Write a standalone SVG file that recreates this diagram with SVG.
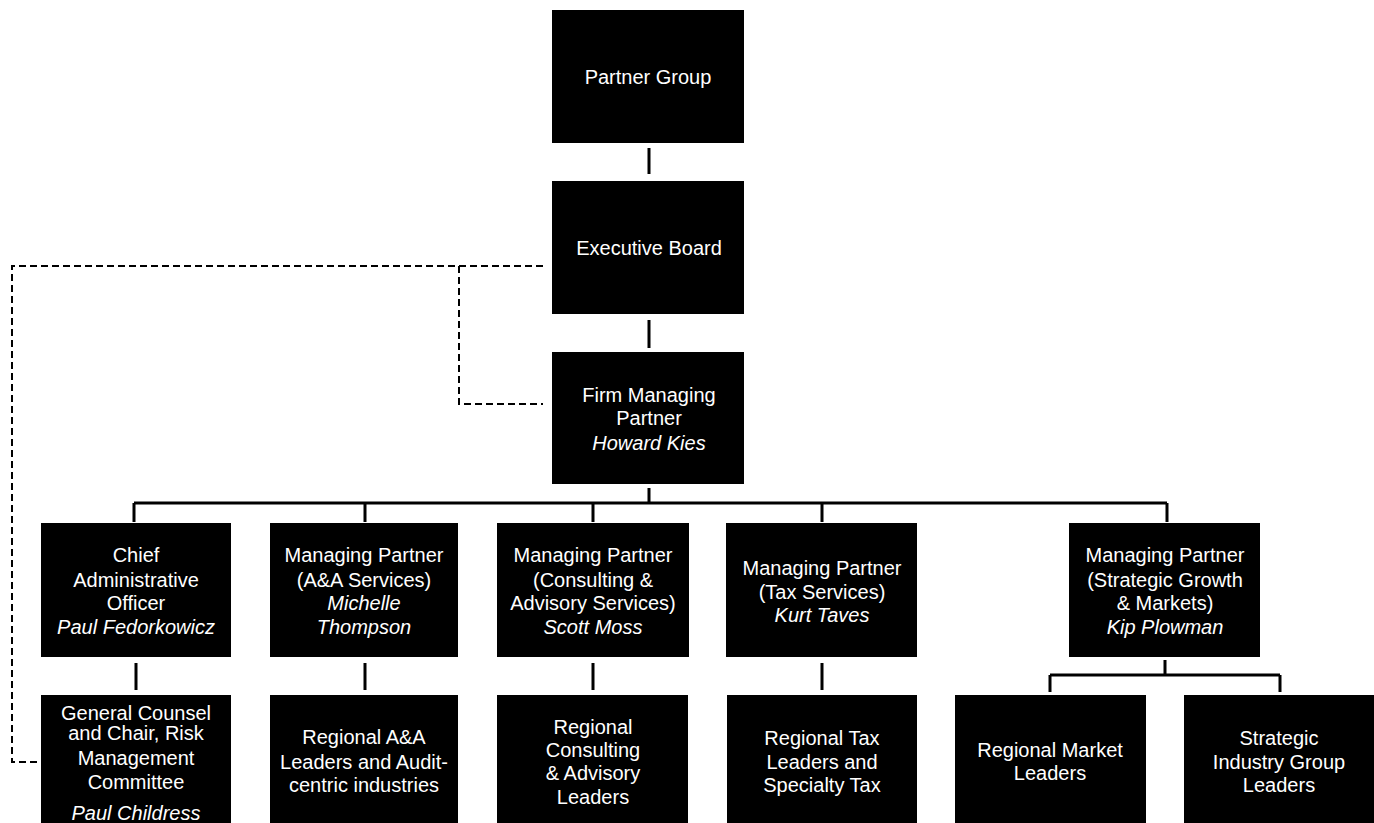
<svg xmlns="http://www.w3.org/2000/svg" width="1374" height="823" viewBox="0 0 1374 823">
<style>
.box{fill:#000}
text{font-family:"Liberation Sans",Arial,sans-serif;font-size:20px;fill:#fff;text-anchor:middle}
.i{font-style:italic}
.c{fill:none;stroke:#000;stroke-width:3}
.d{fill:none;stroke:#000;stroke-width:2;stroke-dasharray:7 4}
</style>
<rect width="1374" height="823" fill="#fff"/>
<g id="connectors">
<path class="c" d="M649 148V174M649 320V348M649 488V503M134 503H1167M134 503V522M365 503V522M593 503V522M822 503V522M1167 503V522"/>
<path class="c" d="M136 663V690M365 663V690M593 663V690M822 663V690M1165 660V675M1050 675H1280M1050 675V692M1280 675V692"/>
<path class="d" d="M543 266H12V762H38M459 266V404H543"/>
</g>
<g id="partner-group"><rect class="box" x="552" y="10" width="192" height="133"/><text x="648" y="84">Partner Group</text></g>
<g id="executive-board"><rect class="box" x="552" y="181" width="192" height="133"/><text x="649" y="255">Executive Board</text></g>
<g id="firm-managing-partner"><rect class="box" x="552" y="352" width="192" height="132"/><text x="649" y="402">Firm Managing</text><text x="649" y="425">Partner</text><text class="i" x="649" y="450">Howard Kies</text></g>
<g id="cao"><rect class="box" x="41" y="523" width="190" height="134"/><text x="136" y="562">Chief</text><text x="136" y="587">Administrative</text><text x="136" y="610">Officer</text><text class="i" x="136" y="634">Paul Fedorkowicz</text></g>
<g id="mp-aa"><rect class="box" x="270" y="523" width="188" height="134"/><text x="364" y="562">Managing Partner</text><text x="364" y="587">(A&amp;A Services)</text><text class="i" x="364" y="610">Michelle</text><text class="i" x="364" y="634">Thompson</text></g>
<g id="mp-consulting"><rect class="box" x="497" y="523" width="192" height="134"/><text x="593" y="562">Managing Partner</text><text x="593" y="587">(Consulting &amp;</text><text x="593" y="610">Advisory Services)</text><text class="i" x="593" y="634">Scott Moss</text></g>
<g id="mp-tax"><rect class="box" x="726" y="523" width="191" height="134"/><text x="822" y="575">Managing Partner</text><text x="822" y="599">(Tax Services)</text><text class="i" x="822" y="622">Kurt Taves</text></g>
<g id="mp-strategic"><rect class="box" x="1069" y="523" width="191" height="134"/><text x="1165" y="562">Managing Partner</text><text x="1165" y="587">(Strategic Growth</text><text x="1165" y="610">&amp; Markets)</text><text class="i" x="1165" y="634">Kip Plowman</text></g>
<g id="general-counsel"><rect class="box" x="41" y="695" width="190" height="128"/><text x="136" y="720">General Counsel</text><text x="136" y="740">and Chair, Risk</text><text x="136" y="765">Management</text><text x="136" y="789">Committee</text><text class="i" x="136" y="820">Paul Childress</text></g>
<g id="regional-aa"><rect class="box" x="270" y="695" width="188" height="128"/><text x="364" y="744">Regional A&amp;A</text><text x="364" y="769">Leaders and Audit-</text><text x="364" y="792">centric industries</text></g>
<g id="regional-consulting"><rect class="box" x="497" y="695" width="191" height="128"/><text x="593" y="734">Regional</text><text x="593" y="757">Consulting</text><text x="593" y="780">&amp; Advisory</text><text x="593" y="804">Leaders</text></g>
<g id="regional-tax"><rect class="box" x="727" y="695" width="190" height="128"/><text x="822" y="745">Regional Tax</text><text x="822" y="769">Leaders and</text><text x="822" y="792">Specialty Tax</text></g>
<g id="regional-market"><rect class="box" x="955" y="695" width="191" height="128"/><text x="1050" y="757">Regional Market</text><text x="1050" y="780">Leaders</text></g>
<g id="strategic-industry"><rect class="box" x="1184" y="695" width="190" height="128"/><text x="1279" y="745">Strategic</text><text x="1279" y="769">Industry Group</text><text x="1279" y="792">Leaders</text></g>
</svg>
